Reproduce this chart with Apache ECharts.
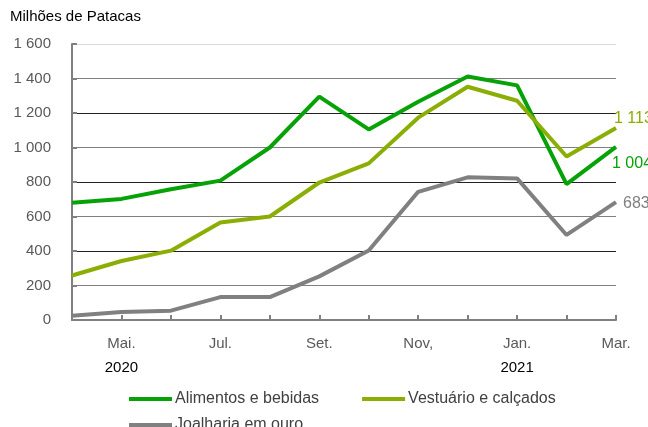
<!DOCTYPE html>
<html>
<head>
<meta charset="utf-8">
<script src="https://cdn.jsdelivr.net/npm/echarts@6/dist/echarts.min.js"></script>
<style>
  html, body { margin: 0; padding: 0; background: #fff; }
  #chart { width: 648px; height: 427px; }
</style>
</head>
<body>
<div id="chart"></div>
<script>
// Abr. 2020 .. Mar. 2021
var months = ['Abr.', 'Mai.', 'Jun.', 'Jul.', 'Ago.', 'Set.', 'Out.', 'Nov,', 'Dez.', 'Jan.', 'Fev.', 'Mar.']
var years = ['', '2020', '', '', '', '', '', '', '', '2021', '', '']

var alimentos = [680, 702, 758, 808, 1000, 1295, 1105, 1265, 1412, 1360, 788, 1004]
var vestuario = [258, 342, 402, 565, 600, 797, 908, 1173, 1352, 1271, 948, 1113]
var joalharia = [25, 46, 54, 133, 133, 253, 403, 743, 827, 821, 493, 683]

var seriesNames = ['Alimentos e bebidas', 'Vestuário e calçados', 'Joalharia em ouro']
var colors = ['#07a207', '#8aae04', '#808080']

var FONT = "'Liberation Sans', Arial, sans-serif"

function fmt(v) {
  return String(v).replace(/\B(?=(\d{3})+(?!\d))/g, ' ')
}

var chart = echarts.init(document.getElementById('chart'))

function lineSeries(name, data, color, offset) {
  return {
    name: name,
    type: 'line',
    data: data,
    symbol: 'none',
    color: color,
    lineStyle: { color: color, width: 4 },
    animation: false,
    endLabel: {
      show: true,
      offset: offset,
      color: color,
      fontSize: 16,
      fontFamily: FONT,
      formatter: function (p) { return fmt(p.value) }
    }
  }
}

var legendBase = {
  padding: 0,
  icon: 'rect',
  itemWidth: 43,
  itemHeight: 4,
  itemGap: 43,
  textStyle: { fontSize: 16, color: '#404040', fontFamily: FONT, padding: [0, 0, 0, -2] }
}

chart.setOption({
  textStyle: { fontFamily: FONT },
  title: {
    text: 'Milhões de Patacas',
    left: 5,
    top: 4,
    textStyle: { fontSize: 15, fontWeight: 'normal', color: '#000', fontFamily: FONT }
  },
  grid: { left: 72, right: 32, top: 44, bottom: 107 },
  legend: [
    Object.assign({ left: 129, top: 391, data: seriesNames.slice(0, 2) }, legendBase),
    Object.assign({ left: 129, top: 417, data: seriesNames.slice(2) }, legendBase)
  ],
  xAxis: {
    type: 'category',
    data: months,
    boundaryGap: false,
    axisLine: { lineStyle: { color: '#808080', width: 2 } },
    axisTick: { inside: true, length: 5, interval: 0, lineStyle: { color: '#808080', width: 2 } },
    axisLabel: {
      interval: function (i) { return i % 2 === 1 },
      margin: 12,
      formatter: function (v, i) {
        return '{m|' + v + '}\n{y|' + (years[i] || ' ') + '}'
      },
      rich: {
        m: { fontSize: 15, color: '#595959', lineHeight: 24, fontFamily: FONT },
        y: { fontSize: 15, color: '#000', lineHeight: 24, fontFamily: FONT }
      }
    }
  },
  yAxis: {
    type: 'value',
    min: 0,
    max: 1600,
    interval: 200,
    axisLine: { show: true, lineStyle: { color: '#808080', width: 2 } },
    axisTick: { show: true, inside: true, length: 5, lineStyle: { color: '#808080', width: 2 } },
    axisLabel: {
      margin: 21,
      fontSize: 15,
      color: '#595959',
      fontFamily: FONT,
      formatter: function (v) { return fmt(v) }
    },
    splitLine: {
      lineStyle: {
        width: 1,
        color: ['#808080', '#808080', '#222', '#808080', '#222', '#808080', '#222', '#808080', '#d9d9d9']
      }
    }
  },
  series: [
    lineSeries(seriesNames[0], alimentos, colors[0], [-12, 17]),
    lineSeries(seriesNames[1], vestuario, colors[1], [-10, -9]),
    lineSeries(seriesNames[2], joalharia, colors[2], [-1, 1])
  ]
})
</script>
</body>
</html>
